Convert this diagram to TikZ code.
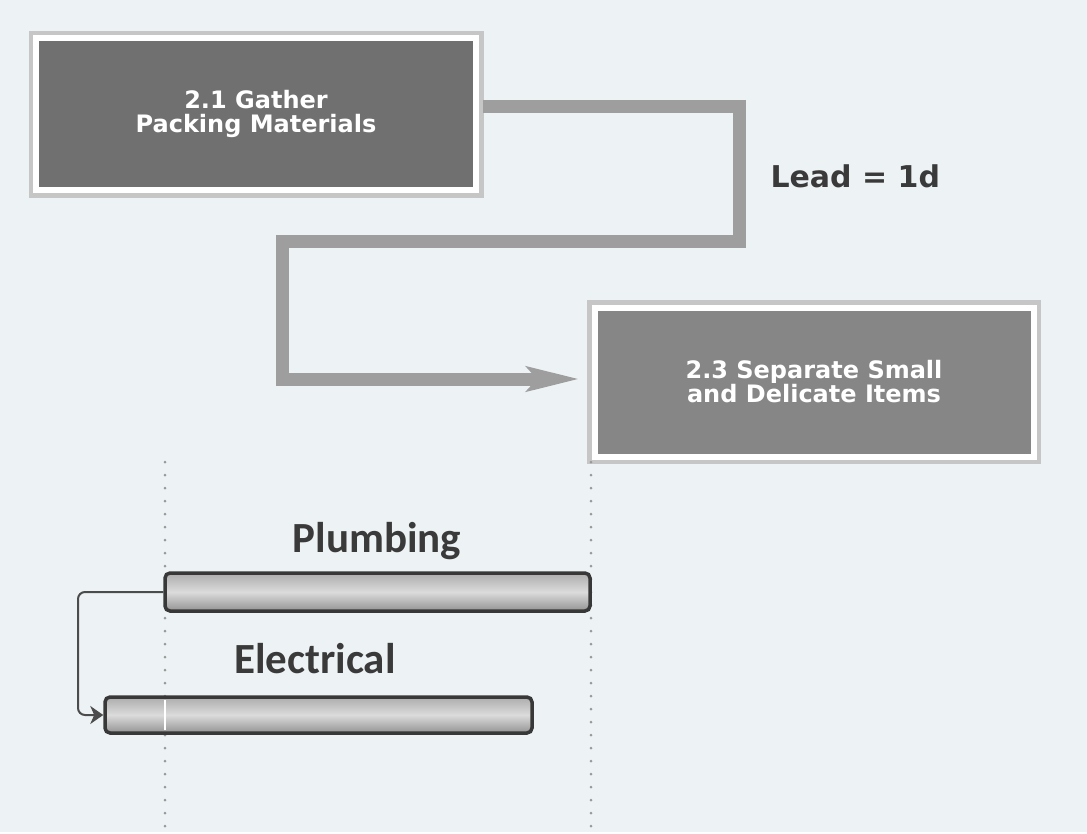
\documentclass[tikz,border=0pt]{standalone}
\usepackage{fontspec}
\newfontfamily\boxfont{DejaVu Sans}
\newfontfamily\labfont{Carlito}
\usetikzlibrary{arrows.meta}
\definecolor{pagebg}{RGB}{237,243,245}
\definecolor{boxa}{RGB}{112,112,112}
\definecolor{boxb}{RGB}{134,134,134}
\definecolor{leadgray}{RGB}{158,158,158}
\definecolor{inkgray}{RGB}{58,58,58}
\tikzset{
  taskbox/.style={draw=white, line width=6pt, text=white, inner sep=0pt, align=center,
    font=\boxfont\bfseries\fontsize{24}{24}\selectfont,
    preaction={draw=gray!45, line width=15pt}},
  leadline/.style={draw=leadgray, line width=13pt, line join=miter,
    -{Stealth[length=52pt,width=24pt,inset=10pt]}},
  pipebar/.style={draw=black!78, line width=3.5pt, rounded corners=5pt, inner sep=0pt,
    top color=gray!65, bottom color=gray!85, middle color=gray!28},
  barlabel/.style={anchor=base, text=inkgray, font=\labfont\bfseries\fontsize{43}{43}\selectfont},
  link/.style={draw=black!70, line width=2pt, rounded corners=7pt,
    -{Stealth[length=13pt,width=18pt,inset=4pt]}},
  guide/.style={draw=gray!80, line width=3pt, line cap=round, dash pattern=on 0pt off 13pt}
}
\begin{document}
\begin{tikzpicture}[x=1pt, y=-1pt]
% page
\fill[pagebg] (0,0) rectangle (1087,832);

% the two tasks
\node (gather)[taskbox, fill=boxa, minimum width=440pt, minimum height=152pt] at (256,114) {2.1 Gather\\Packing Materials};
\node (separate)[taskbox, fill=boxb, minimum width=439pt, minimum height=149pt] at (814,382) {2.3 Separate Small\\and Delicate Items};

\draw[leadline, shorten <=4pt, shorten >=12pt] (gather.east |- 0,106) -| (739,241) -| (282,379) -- (separate.west |- 0,379);
\node (lead)[anchor=base west, text=inkgray, font=\boxfont\bfseries\fontsize{30}{30}\selectfont] at (767,187) {Lead = 1d};

% guides first (behind the bars)
\draw[guide] (165,462) -- (165,832);
\draw[guide] (591,462) -- (591,832);

\node (plumbbar)[pipebar, minimum width=425pt, minimum height=38pt] at (377.5,592) {};
\node (elecbar)[pipebar, minimum width=427pt, minimum height=36pt] at (318.5,715) {};
\draw[white, line width=2.5pt] (165,700) -- (165,730);

\node (plumb)[barlabel] at (377,552) {Plumbing};
\node (elec)[barlabel] at (315,673) {Electrical};

\coordinate (bend) at (78,715);
\draw[link] (plumbbar.west) -| (bend) -- (elecbar.west);
\end{tikzpicture}
\end{document}
